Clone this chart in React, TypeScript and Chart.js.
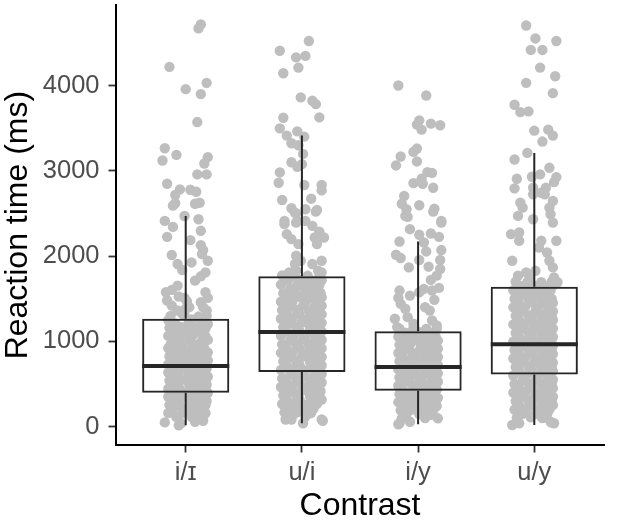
import { useEffect, useRef } from "react";
import Chart from "chart.js/auto";

const categories = ["i/ɪ", "u/i", "i/y", "u/y"];
const yTicks = [0, 1000, 2000, 3000, 4000];

// box statistics per contrast (ms)
const whiskerLow = [16, 40, 28, 20];
const quartile1 = [397, 642, 421, 612];
const medians = [712, 1110, 701, 966];
const quartile3 = [1266, 1764, 1121, 1643];
const whiskerHigh = [2472, 3415, 2172, 3212];

// trials as [horizontal jitter, reaction time in ms]
const trialsIi: [number, number][] = [
  [0.13, 4720], [0.11, 4673], [-0.14, 4221], [0.18, 4034], [0.0, 3960], [0.13, 3902], [0.1, 3574],
  [-0.18, 3267], [-0.08, 3189], [-0.2, 3123], [0.19, 3162], [0.16, 3088], [0.1, 2960], [0.18, 2960],
  [-0.16, 2850], [-0.05, 2784], [-0.09, 2718], [0.04, 2780], [0.09, 2756], [-0.09, 2621], [-0.11, 2593],
  [0.08, 2616], [0.12, 2628], [-0.01, 2472], [0.11, 2434], [-0.18, 2414], [0.13, 2298], [-0.11, 2344],
  [-0.16, 2227], [0.04, 2189], [0.13, 2130], [0.15, 2072], [-0.12, 2014], [-0.07, 1908], [-0.03, 1838],
  [0.05, 1927], [0.14, 2025], [0.19, 1947], [0.17, 1810], [0.13, 1764], [0.08, 1713], [-0.07, 1655],
  [-0.12, 1605], [-0.17, 1577], [-0.06, 1527], [-0.01, 1511], [0.17, 1577], [0.19, 1511], [-0.16, 1480],
  [-0.12, 1421], [0.01, 1472], [0.03, 1402], [0.13, 1460], [0.15, 1402], [0.18, 1363], [-0.07, 1363],
  [-0.03, 1325], [0.0, 1383],
  [-0.13, 1300], [-0.01, 1306], [0.11, 1292], [0.18, 1301], [-0.15, 1250], [0.05, 1258], [0.16, 1246],
  [-0.09, 1210], [0.02, 1201], [0.13, 1214], [0.19, 1205], [-0.14, 1160], [-0.04, 1166], [0.08, 1155],
  [0.17, 1151], [-0.11, 1110], [0.0, 1116], [0.12, 1106], [-0.15, 1065], [-0.05, 1061], [0.06, 1071],
  [0.17, 1060], [-0.09, 1016], [0.03, 1021], [0.14, 1010], [0.19, 1018], [-0.13, 966], [-0.03, 971],
  [0.09, 961], [-0.15, 921], [-0.07, 915], [0.05, 926], [0.16, 918], [-0.11, 871], [0.01, 876],
  [0.12, 866], [0.19, 872], [-0.14, 826], [-0.04, 820], [0.07, 831], [0.17, 822], [-0.09, 776],
  [0.02, 781], [0.13, 771], [0.19, 778], [-0.15, 731], [-0.05, 736], [0.08, 726], [0.16, 732],
  [-0.11, 681], [0.0, 686], [0.11, 678], [0.18, 684], [-0.15, 636], [-0.06, 631], [0.05, 641],
  [0.15, 633], [-0.1, 586], [0.02, 591], [0.12, 581], [0.19, 588], [-0.14, 541], [-0.04, 546],
  [0.07, 536], [0.17, 542], [-0.09, 491], [0.03, 496], [0.13, 486], [0.18, 492], [-0.15, 446],
  [-0.05, 441], [0.08, 451], [0.16, 442], [-0.11, 396], [0.01, 401], [0.11, 391], [0.19, 398],
  [-0.15, 351], [-0.04, 346], [0.06, 356], [0.15, 348], [-0.09, 301], [0.03, 306], [0.13, 296],
  [0.18, 302], [-0.14, 256], [-0.05, 251], [0.08, 261], [0.17, 252], [-0.11, 206], [0.02, 211],
  [0.11, 201], [-0.15, 161], [-0.03, 156], [0.07, 166], [0.17, 158], [-0.08, 112], [0.05, 116],
  [0.14, 106],
  [-0.18, 50], [-0.06, 16], [0.08, 58], [0.15, 70], [0.11, 117], [-0.04, 40],
];

const trialsUi: [number, number][] = [
  [0.06, 4525], [-0.19, 4411], [-0.05, 4333], [0.03, 4350], [-0.16, 4146], [-0.03, 4213], [-0.01, 3863],
  [0.09, 3824], [0.12, 3784], [-0.16, 3625], [0.15, 3629], [-0.19, 3500], [-0.13, 3415], [-0.04, 3465],
  [0.02, 3403], [-0.09, 3325], [-0.03, 3302], [0.01, 3200], [-0.09, 3103], [-0.04, 3049], [0.0, 3080],
  [-0.19, 2983], [-0.2, 2862], [0.02, 2835], [0.17, 2835], [0.17, 2773], [-0.17, 2660], [0.08, 2675],
  [-0.09, 2563], [-0.05, 2504], [0.03, 2551], [0.13, 2543], [-0.15, 2414], [-0.04, 2414], [0.03, 2414],
  [-0.06, 2511], [0.12, 2523], [-0.15, 2376], [-0.05, 2394], [0.09, 2356], [0.15, 2289], [0.19, 2219],
  [-0.13, 2259], [-0.09, 2200], [-0.03, 2142], [0.11, 2219], [0.13, 2142], [-0.05, 2005], [-0.06, 1908],
  [-0.01, 1947], [0.09, 1908], [0.17, 1947], [0.14, 1830], [-0.11, 1810], [-0.05, 1830], [0.17, 1810],
  [-0.17, 1775], [-0.06, 1761], [0.05, 1770], [0.15, 1756], [-0.12, 1716], [0.0, 1722], [0.1, 1711],
  [0.17, 1718], [-0.18, 1666], [-0.04, 1661], [0.07, 1670], [0.15, 1662], [-0.1, 1616], [0.02, 1621],
  [0.12, 1611], [-0.16, 1566], [-0.06, 1571], [0.05, 1561], [0.16, 1568], [-0.12, 1516], [-0.01, 1521],
  [0.09, 1511], [0.17, 1518], [-0.18, 1466], [-0.08, 1471], [0.03, 1461], [0.14, 1468], [-0.11, 1416],
  [0.01, 1421], [0.11, 1411], [0.17, 1418], [-0.17, 1366], [-0.05, 1371], [0.06, 1361], [0.15, 1368],
  [-0.13, 1316], [-0.02, 1321], [0.09, 1311], [0.17, 1318], [-0.18, 1266], [-0.08, 1271], [0.04, 1261],
  [0.14, 1268], [-0.11, 1216], [0.0, 1221], [0.1, 1211], [0.17, 1218], [-0.16, 1166], [-0.05, 1171],
  [0.07, 1161], [0.15, 1168], [-0.13, 1116], [-0.02, 1121], [0.09, 1111], [0.17, 1118], [-0.18, 1066],
  [-0.07, 1071], [0.03, 1061], [0.13, 1068], [-0.1, 1016], [0.01, 1021], [0.11, 1011], [0.17, 1018],
  [-0.17, 966], [-0.05, 971], [0.06, 961], [0.15, 968], [-0.13, 916], [-0.02, 921], [0.08, 911],
  [0.17, 918], [-0.18, 866], [-0.08, 871], [0.04, 861], [0.14, 868], [-0.11, 816], [0.0, 821],
  [0.1, 811], [0.17, 818], [-0.16, 766], [-0.05, 771], [0.07, 761], [0.15, 768], [-0.13, 716],
  [-0.02, 721], [0.09, 711], [0.17, 718], [-0.18, 666], [-0.07, 671], [0.03, 661], [0.13, 668],
  [-0.1, 616], [0.01, 621], [0.11, 611], [0.17, 618], [-0.17, 566], [-0.05, 571], [0.06, 561],
  [0.15, 568], [-0.13, 516], [-0.02, 521], [0.08, 511], [0.17, 518], [-0.18, 466], [-0.08, 471],
  [0.04, 461], [0.14, 468], [-0.11, 416], [0.0, 421], [0.1, 411], [0.16, 418], [-0.16, 366],
  [-0.05, 371], [0.07, 361], [0.15, 368], [-0.13, 316], [-0.02, 321], [0.08, 311], [0.17, 318],
  [-0.17, 266], [-0.07, 271], [0.04, 261], [0.13, 268], [-0.11, 216], [0.0, 221], [0.1, 211],
  [-0.15, 168], [-0.04, 172], [0.08, 162], [-0.09, 122], [0.03, 118],
  [0.01, 40], [0.18, 70], [-0.06, 157], [0.07, 157], [-0.14, 84], [-0.09, 84], [0.17, 84],
];

const trialsIy: [number, number][] = [
  [-0.17, 4003], [0.07, 3886], [0.01, 3594], [-0.01, 3544], [0.03, 3485], [0.11, 3555], [0.19, 3536],
  [-0.01, 3263], [-0.04, 3224], [-0.15, 3170], [-0.19, 3065], [-0.01, 3112], [0.08, 2987], [0.12, 2978],
  [0.03, 2908], [-0.04, 2858], [0.04, 2850], [0.13, 2803], [-0.12, 2706], [-0.14, 2616], [-0.1, 2551],
  [-0.09, 2461], [0.01, 2598], [0.14, 2558], [0.2, 2414], [-0.11, 2473], [0.13, 2523], [0.2, 2394],
  [-0.07, 2317], [0.01, 2251], [0.11, 2266], [0.18, 2227], [-0.16, 2172], [0.05, 2161], [0.07, 2056],
  [0.2, 2072], [-0.19, 2017], [-0.15, 1979], [0.01, 1955], [0.19, 1955], [-0.08, 1869], [0.09, 1877],
  [0.19, 1850], [0.16, 1772], [0.11, 1722], [-0.16, 1597], [-0.17, 1511], [-0.15, 1441], [-0.07, 1538],
  [0.01, 1577], [0.05, 1616], [0.12, 1597], [0.18, 1628], [0.14, 1488], [0.06, 1402], [0.1, 1363],
  [-0.11, 1383], [-0.09, 1285], [-0.04, 1208], [-0.2, 1266], [-0.18, 1168], [0.12, 1246], [0.16, 1188],
  [-0.16, 1150], [-0.04, 1156], [0.07, 1146], [0.16, 1152], [-0.11, 1102], [0.01, 1107], [0.12, 1098],
  [-0.17, 1056], [-0.06, 1061], [0.05, 1051], [0.15, 1058], [-0.12, 1008], [-0.01, 1013], [0.09, 1003],
  [0.17, 1010], [-0.16, 960], [-0.07, 965], [0.04, 955], [0.14, 962], [-0.1, 912], [0.02, 917],
  [0.11, 907], [0.17, 914], [-0.17, 864], [-0.05, 869], [0.06, 859], [0.15, 866], [-0.13, 816],
  [-0.02, 821], [0.08, 811], [0.17, 818], [-0.16, 768], [-0.07, 773], [0.04, 763], [0.13, 770],
  [-0.11, 720], [0.0, 725], [0.1, 715], [0.17, 722], [-0.17, 672], [-0.05, 677], [0.06, 667],
  [0.15, 674], [-0.12, 624], [-0.02, 629], [0.09, 619], [0.17, 626], [-0.16, 576], [-0.07, 581],
  [0.03, 571], [0.13, 578], [-0.1, 528], [0.01, 533], [0.11, 523], [0.17, 530], [-0.17, 480],
  [-0.05, 485], [0.06, 475], [0.15, 482], [-0.13, 432], [-0.02, 437], [0.08, 427], [0.16, 434],
  [-0.16, 384], [-0.06, 389], [0.04, 379], [0.14, 386], [-0.11, 336], [0.0, 341], [0.1, 331],
  [0.17, 338], [-0.17, 288], [-0.05, 293], [0.06, 283], [0.15, 290], [-0.12, 240], [-0.02, 245],
  [0.09, 235], [0.16, 242], [-0.15, 192], [-0.06, 197], [0.04, 187], [0.13, 194], [-0.1, 144],
  [0.01, 149], [0.11, 139], [-0.14, 98], [0.06, 102],
  [-0.16, 40], [-0.17, 28], [-0.07, 58], [0.17, 98],
];

const trialsUy: [number, number][] = [
  [-0.07, 4707], [0.01, 4555], [0.19, 4525], [-0.03, 4420], [0.07, 4420], [0.05, 4213], [0.18, 4111],
  [-0.07, 4034], [0.16, 3913], [-0.17, 3777], [-0.12, 3691], [-0.05, 3699], [0.0, 3473], [0.12, 3485],
  [0.16, 3415], [0.07, 3345], [-0.06, 3212], [-0.17, 3135], [0.13, 3037], [-0.15, 2908], [-0.02, 2932],
  [0.05, 2960], [0.19, 2928], [0.17, 2870], [-0.17, 2796], [-0.01, 2803], [-0.01, 2726], [0.06, 2745],
  [0.1, 2803], [0.09, 2726], [-0.12, 2628], [-0.1, 2570], [0.16, 2648], [0.13, 2570], [0.14, 2492],
  [-0.14, 2473], [-0.01, 2434], [0.16, 2394], [-0.2, 2259], [-0.13, 2278], [0.19, 2181], [0.06, 2181],
  [0.04, 2102], [-0.13, 2181], [0.11, 2044], [0.13, 1947], [0.16, 1869], [-0.19, 1947], [-0.14, 1772],
  [-0.07, 1810], [0.01, 1830], [-0.04, 1733], [-0.06, 1694], [0.17, 1752], [0.2, 1694],
  [-0.16, 1700], [-0.05, 1706], [0.06, 1696], [0.15, 1702], [-0.12, 1650], [0.0, 1655], [0.1, 1645],
  [0.16, 1652], [-0.18, 1600], [-0.06, 1605], [0.04, 1595], [0.14, 1602], [-0.11, 1550], [0.01, 1555],
  [0.11, 1545], [-0.17, 1500], [-0.05, 1505], [0.06, 1495], [0.15, 1502], [-0.13, 1450], [-0.02, 1455],
  [0.09, 1445], [0.16, 1452], [-0.18, 1400], [-0.08, 1405], [0.03, 1395], [0.13, 1402], [-0.11, 1350],
  [0.01, 1355], [0.11, 1345], [0.16, 1352], [-0.16, 1300], [-0.05, 1305], [0.06, 1295], [0.15, 1302],
  [-0.13, 1250], [-0.02, 1255], [0.08, 1245], [0.16, 1252], [-0.18, 1200], [-0.08, 1205], [0.04, 1195],
  [0.13, 1202], [-0.11, 1150], [0.0, 1155], [0.1, 1145], [0.16, 1152], [-0.16, 1100], [-0.05, 1105],
  [0.06, 1095], [0.14, 1102], [-0.13, 1050], [-0.02, 1055], [0.08, 1045], [0.16, 1052], [-0.18, 1000],
  [-0.07, 1005], [0.03, 995], [0.13, 1002], [-0.1, 950], [0.01, 955], [0.11, 945], [0.16, 952],
  [-0.17, 900], [-0.05, 905], [0.06, 895], [0.15, 902], [-0.13, 850], [-0.02, 855], [0.08, 845],
  [0.16, 852], [-0.18, 800], [-0.08, 805], [0.04, 795], [0.13, 802], [-0.11, 750], [0.0, 755],
  [0.1, 745], [0.16, 752], [-0.16, 700], [-0.05, 705], [0.06, 695], [0.15, 702], [-0.13, 650],
  [-0.02, 655], [0.08, 645], [0.16, 652], [-0.18, 600], [-0.07, 605], [0.03, 595], [0.13, 602],
  [-0.1, 550], [0.01, 555], [0.11, 545], [0.16, 552], [-0.17, 500], [-0.05, 505], [0.06, 495],
  [0.15, 502], [-0.13, 450], [-0.02, 455], [0.08, 445], [0.16, 452], [-0.18, 400], [-0.08, 405],
  [0.04, 395], [0.13, 402], [-0.11, 350], [0.0, 355], [0.1, 345], [0.16, 352], [-0.16, 300],
  [-0.05, 305], [0.06, 295], [0.15, 302], [-0.13, 250], [-0.02, 255], [0.08, 245], [0.16, 252],
  [-0.17, 200], [-0.07, 205], [0.04, 195], [0.13, 202], [-0.1, 150], [0.01, 155], [0.11, 145],
  [-0.15, 105], [-0.03, 110], [0.07, 100],
  [-0.19, 20], [-0.13, 40], [0.14, 58], [0.17, 40], [0.05, 137], [0.15, 47],
];

const trialsByContrast = [trialsIi, trialsUi, trialsIy, trialsUy];

// whiskers and medians, drawn on top of the boxes
const boxLines = {
  id: "boxLines",
  afterDatasetsDraw(chart: any) {
    const { ctx, scales } = chart;
    const x = scales.x;
    const y = scales.y;
    const bars = chart.getDatasetMeta(1).data;
    ctx.save();
    ctx.strokeStyle = "#262626";
    categories.forEach((_, i) => {
      const cx = x.getPixelForValue(i + 1);
      const half = bars[i].width / 2;
      ctx.lineWidth = 2;
      ctx.beginPath();
      ctx.moveTo(cx, y.getPixelForValue(quartile3[i]));
      ctx.lineTo(cx, y.getPixelForValue(whiskerHigh[i]));
      ctx.moveTo(cx, y.getPixelForValue(quartile1[i]));
      ctx.lineTo(cx, y.getPixelForValue(whiskerLow[i]));
      ctx.stroke();
      ctx.lineWidth = 4;
      ctx.beginPath();
      ctx.moveTo(cx - half, y.getPixelForValue(medians[i]));
      ctx.lineTo(cx + half, y.getPixelForValue(medians[i]));
      ctx.stroke();
    });
    ctx.restore();
  },
};

export default function App() {
  const canvasRef = useRef<HTMLCanvasElement>(null);

  useEffect(() => {
    if (!canvasRef.current) return;

    Chart.defaults.font.family = '"Liberation Sans", Arial, "DejaVu Sans", sans-serif';

    const points = trialsByContrast.flatMap((trials, i) =>
      trials.map(([jitter, ms]) => ({ x: i + 1 + jitter, y: ms }))
    );
    const boxes = categories.map((_, i) => ({ x: i + 1, y: [quartile1[i], quartile3[i]] }));

    const axisGrid = {
      offset: false,
      drawOnChartArea: false,
      drawTicks: true,
      tickLength: 7.5,
      tickColor: "#333333",
      tickWidth: 1.8,
    };
    const axisBorder = { display: true, color: "#000000", width: 2 };

    const chart = new Chart(canvasRef.current, {
      type: "scatter",
      data: {
        datasets: [
          {
            type: "scatter",
            data: points,
            order: 2,
            pointRadius: 5.2,
            pointHoverRadius: 5.2,
            pointBorderWidth: 0,
            pointBackgroundColor: "#bebebe",
            pointBorderColor: "#bebebe",
          },
          {
            type: "bar",
            data: boxes as any,
            order: 1,
            backgroundColor: "rgba(0,0,0,0)",
            borderColor: "#262626",
            borderWidth: 2,
            borderSkipped: false,
            barPercentage: 0.9375,
            categoryPercentage: 0.8,
          },
        ],
      },
      options: {
        responsive: false,
        animation: false,
        events: [],
        layout: { padding: { top: 3, right: 20, bottom: 0, left: 0 } },
        plugins: {
          legend: { display: false },
          tooltip: { enabled: false },
        },
        scales: {
          x: {
            type: "linear",
            min: 0.4,
            max: 4.6,
            offset: false,
            afterBuildTicks: (axis: any) => {
              axis.ticks = categories.map((_, i) => ({ value: i + 1 }));
            },
            afterFit: (axis: any) => {
              axis.height = 77;
              axis.paddingLeft = 0;
              axis.paddingRight = 0;
            },
            ticks: {
              callback: (_v: any, i: number) => categories[i],
              color: "#4d4d4d",
              font: { size: 25.5 },
              padding: 5,
              autoSkip: false,
              maxRotation: 0,
            },
            grid: axisGrid,
            border: axisBorder,
            title: {
              display: true,
              text: "Contrast",
              color: "#000000",
              font: { size: 32, lineHeight: 1 },
              padding: 0,
            },
          },
          y: {
            type: "linear",
            min: -215,
            max: 4945,
            afterBuildTicks: (axis: any) => {
              axis.ticks = yTicks.map((v) => ({ value: v }));
            },
            afterFit: (axis: any) => {
              axis.width = 116;
              axis.paddingTop = 0;
              axis.paddingBottom = 0;
            },
            ticks: {
              callback: (v: any) => String(v),
              color: "#4d4d4d",
              font: { size: 25.5 },
              padding: 9,
            },
            grid: axisGrid,
            border: axisBorder,
            title: {
              display: true,
              text: "Reaction time (ms)",
              color: "#000000",
              font: { size: 32, lineHeight: 1.12 },
              padding: 0,
            },
          },
        },
      },
      plugins: [boxLines],
    });

    return () => {
      chart.destroy();
    };
  }, []);

  return (
    <div style={{ position: "absolute", left: 0, top: 0, width: 624, height: 522, background: "#ffffff" }}>
      <canvas ref={canvasRef} width={624} height={522} style={{ display: "block" }} />
    </div>
  );
}
